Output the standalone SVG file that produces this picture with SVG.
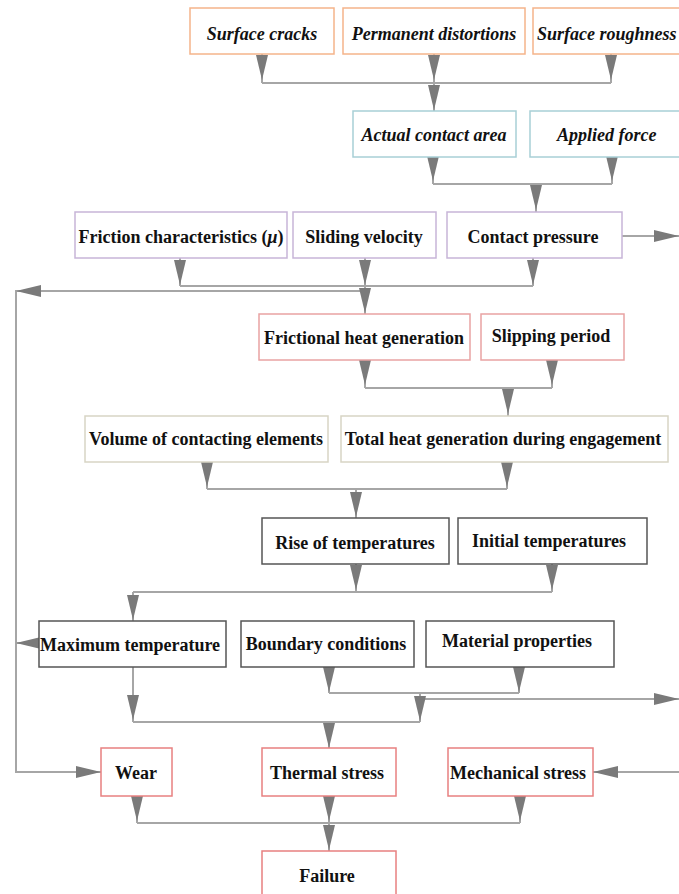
<svg xmlns="http://www.w3.org/2000/svg" xmlns:xlink="http://www.w3.org/1999/xlink" width="679" height="894" viewBox="0 0 679 894">
<style>
.b{fill:#fff;stroke-width:1.5}
.o{stroke:#f5b48a}.bl{stroke:#a8cfd6}.p{stroke:#c7b5d8}.r{stroke:#e9a3a3}.k{stroke:#d8d5c5}.d{stroke:#555}.rd{stroke:#e88080}
text{font-family:"Liberation Serif","Times New Roman",serif;font-size:18px;font-weight:bold;fill:#111;text-anchor:middle}
.i{font-style:italic}
.ln{fill:none;stroke:#a6a6a6;stroke-width:2}
.ah{fill:#7a7a7a}
</style>
<defs>
<path id="ad" d="M-6,-25 L6,-25 L0,0 Z"/>
</defs>
<rect x="0" y="0" width="679" height="894" fill="#fff"/>
<g id="connectors">
<path class="ln" d="M262,54V83M434,54V83M611,54V83M262,83H611M434,83V111"/>
<path class="ln" d="M433,157V184M612,157V184M433,184H612M536,184V212"/>
<path class="ln" d="M180,258V286M365,258V286M533,258V286M180,286H533M365,286V314M365,291H16V772H101M622,236H679"/>
<path class="ln" d="M365,360V388M552,360V388M365,388H552M508,388V416"/>
<path class="ln" d="M207,462V489M507,462V489M207,489H507M356,489V518"/>
<path class="ln" d="M356,564V592M552,564V592M133,592H552M133,592V621"/>
<path class="ln" d="M39,643H16M133,667V722M329,666V693M519,666V693M329,693H519M420,693V722M133,722H420M420,699H679M329,722V748M679,772H593"/>
<path class="ln" d="M137,796V823M329,796V823M520,796V823M137,823H520M329,823V851"/>
<g class="ah">
<use xlink:href="#ad" x="262" y="80"/><use xlink:href="#ad" x="434" y="80"/><use xlink:href="#ad" x="611" y="80"/><use xlink:href="#ad" x="434" y="110"/>
<use xlink:href="#ad" x="433" y="181"/><use xlink:href="#ad" x="612" y="181"/><use xlink:href="#ad" x="536" y="210"/>
<use xlink:href="#ad" x="180" y="285"/><use xlink:href="#ad" x="365" y="285"/><use xlink:href="#ad" x="533" y="285"/><use xlink:href="#ad" x="365" y="313"/>
<use xlink:href="#ad" x="365" y="385"/><use xlink:href="#ad" x="552" y="385"/><use xlink:href="#ad" x="508" y="414"/>
<use xlink:href="#ad" x="207" y="487"/><use xlink:href="#ad" x="507" y="487"/><use xlink:href="#ad" x="356" y="517"/>
<use xlink:href="#ad" x="356" y="590"/><use xlink:href="#ad" x="552" y="590"/><use xlink:href="#ad" x="133" y="620"/>
<use xlink:href="#ad" x="133" y="720"/><use xlink:href="#ad" x="329" y="692"/><use xlink:href="#ad" x="519" y="692"/><use xlink:href="#ad" x="420" y="721"/><use xlink:href="#ad" x="329" y="748"/>
<use xlink:href="#ad" x="137" y="821"/><use xlink:href="#ad" x="329" y="821"/><use xlink:href="#ad" x="520" y="821"/><use xlink:href="#ad" x="329" y="850"/>
<use xlink:href="#ad" transform="translate(679,236) rotate(-90)"/>
<use xlink:href="#ad" transform="translate(679,699) rotate(-90)"/>
<use xlink:href="#ad" transform="translate(16,291) rotate(90)"/>
<use xlink:href="#ad" transform="translate(16,643) rotate(90)"/>
<use xlink:href="#ad" transform="translate(101,772) rotate(-90)"/>
<use xlink:href="#ad" transform="translate(593,772) rotate(90)"/>
</g>
</g>
<g id="surface-cracks"><rect class="b o" x="190" y="8" width="144" height="46"/><text class="i" x="262" y="40">Surface cracks</text></g>
<g id="permanent-distortions"><rect class="b o" x="343" y="8" width="182" height="46"/><text class="i" x="434" y="40">Permanent distortions</text></g>
<g id="surface-roughness"><rect class="b o" x="533" y="8" width="170" height="46"/><text class="i" x="537" y="40" style="text-anchor:start">Surface roughness</text></g>
<g id="actual-contact-area"><rect class="b bl" x="353" y="111" width="163" height="46"/><text class="i" x="434" y="141">Actual contact area</text></g>
<g id="applied-force"><rect class="b bl" x="530" y="111" width="170" height="46"/><text class="i" x="557" y="141" style="text-anchor:start">Applied force</text></g>
<g id="friction-characteristics"><rect class="b p" x="75" y="212" width="212" height="46"/><text x="181" y="243">Friction characteristics (<tspan font-style="italic">μ</tspan>)</text></g>
<g id="sliding-velocity"><rect class="b p" x="293" y="212" width="143" height="46"/><text x="364" y="243">Sliding velocity</text></g>
<g id="contact-pressure"><rect class="b p" x="447" y="212" width="175" height="46"/><text x="533" y="243">Contact pressure</text></g>
<g id="frictional-heat-generation"><rect class="b r" x="259" y="314" width="211" height="46"/><text x="364" y="344">Frictional heat generation</text></g>
<g id="slipping-period"><rect class="b r" x="481" y="314" width="143" height="46"/><text x="551" y="342">Slipping period</text></g>
<g id="volume-of-contacting-elements"><rect class="b k" x="85" y="416" width="243" height="46"/><text x="206" y="445">Volume of contacting elements</text></g>
<g id="total-heat-generation"><rect class="b k" x="341" y="416" width="327" height="46"/><text x="503" y="445">Total heat generation during engagement</text></g>
<g id="rise-of-temperatures"><rect class="b d" x="262" y="518" width="187" height="46"/><text x="355" y="549">Rise of temperatures</text></g>
<g id="initial-temperatures"><rect class="b d" x="458" y="518" width="189" height="46"/><text x="549" y="547">Initial temperatures</text></g>
<g id="maximum-temperature"><rect class="b d" x="39" y="621" width="187" height="46"/><text x="130" y="651">Maximum temperature</text></g>
<g id="boundary-conditions"><rect class="b d" x="241" y="621" width="173" height="46"/><text x="326" y="650">Boundary conditions</text></g>
<g id="material-properties"><rect class="b d" x="426" y="621" width="188" height="46"/><text x="517" y="647">Material properties</text></g>
<g id="wear"><rect class="b rd" x="101" y="748" width="71" height="48"/><text x="136" y="779">Wear</text></g>
<g id="thermal-stress"><rect class="b rd" x="262" y="748" width="134" height="48"/><text x="327" y="779">Thermal stress</text></g>
<g id="mechanical-stress"><rect class="b rd" x="448" y="748" width="145" height="48"/><text x="518" y="779">Mechanical stress</text></g>
<g id="failure"><rect class="b rd" x="262" y="851" width="134" height="60"/><text x="327" y="882">Failure</text></g>
</svg>
